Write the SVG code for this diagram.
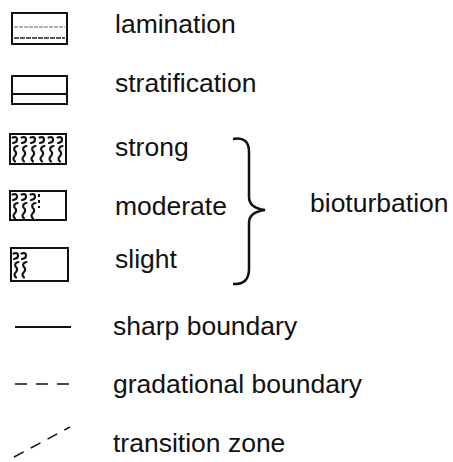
<svg xmlns="http://www.w3.org/2000/svg" width="453" height="462" viewBox="0 0 453 462">
  <style>
    .lbl { font-family: "Liberation Sans", Arial, sans-serif; font-size: 26.5px; fill: #111; }
    .box { fill: #fff; stroke: #111; stroke-width: 2; }
    .ln { stroke: #111; fill: none; }
    .burrow { stroke: #111; stroke-width: 2.2; fill: none; stroke-linecap: round; }
  </style>
  <defs>
    <!-- one column of burrow marks: a hooked trace above a wavy one -->
    <g id="burrow">
      <path class="burrow" d="M1.5,3.5 q4.5,-1.5 4.5,2 q0,3 -4,3.5"/>
      <path class="burrow" d="M6.5,12 q-4.5,1 -3,4.5 q3,2.5 0.5,5.5 q-3,2.5 0,5.5"/>
    </g>
  </defs>

  <g id="lamination">
    <rect class="box" x="12" y="13" width="55" height="31"/>
    <line x1="14" y1="27" x2="65" y2="27" stroke="#666" stroke-width="1.2" stroke-dasharray="4,1"/>
    <line x1="14" y1="38" x2="65" y2="38" stroke="#222" stroke-width="1.4" stroke-dasharray="5,1"/>
    <text class="lbl" x="115" y="33">lamination</text>
  </g>

  <g id="stratification">
    <rect class="box" x="12" y="76" width="55" height="28"/>
    <line class="ln" x1="12" y1="94" x2="67" y2="94" stroke-width="2"/>
    <text class="lbl" x="115" y="92">stratification</text>
  </g>

  <g id="strong">
    <rect class="box" x="10" y="134" width="56" height="30"/>
    <use href="#burrow" x="11" y="134"/>
    <use href="#burrow" x="20" y="134"/>
    <use href="#burrow" x="29" y="134"/>
    <use href="#burrow" x="38" y="134"/>
    <use href="#burrow" x="47" y="134"/>
    <use href="#burrow" x="56" y="134"/>
    <text class="lbl" x="115" y="156">strong</text>
  </g>

  <g id="moderate">
    <rect class="box" x="10" y="191" width="56" height="29"/>
    <use href="#burrow" x="11" y="191"/>
    <use href="#burrow" x="20" y="191"/>
    <use href="#burrow" x="29" y="191"/>
    <line class="ln" x1="39" y1="194" x2="39" y2="208" stroke-width="2" stroke-dasharray="3,3"/>
    <text class="lbl" x="115" y="215">moderate</text>
  </g>

  <g id="slight">
    <rect class="box" x="11" y="248" width="57" height="33"/>
    <use href="#burrow" x="12" y="250"/>
    <use href="#burrow" x="20" y="250"/>
    <text class="lbl" x="115" y="268">slight</text>
  </g>

  <g id="bioturbation">
    <path class="ln" stroke-width="2.5" d="M233,139 Q249,136 249,152 L249,197 Q249,208 265,210 Q249,212 249,223 L249,269 Q249,285 233,284"/>
    <text class="lbl" x="310" y="212">bioturbation</text>
  </g>

  <g id="connectors">
    <line class="ln" x1="15" y1="327" x2="71" y2="327" stroke-width="2"/>
    <line class="ln" x1="15" y1="384" x2="71" y2="384" stroke-width="1.5" stroke-dasharray="12,9"/>
    <line class="ln" x1="14" y1="457" x2="70" y2="427" stroke-width="1.5" stroke-dasharray="11,8"/>
  </g>

  <g id="sharp-boundary">
    <text class="lbl" x="113" y="335">sharp boundary</text>
  </g>
  <g id="gradational-boundary">
    <text class="lbl" x="113" y="393">gradational boundary</text>
  </g>
  <g id="transition-zone">
    <text class="lbl" x="113" y="452">transition zone</text>
  </g>
</svg>
